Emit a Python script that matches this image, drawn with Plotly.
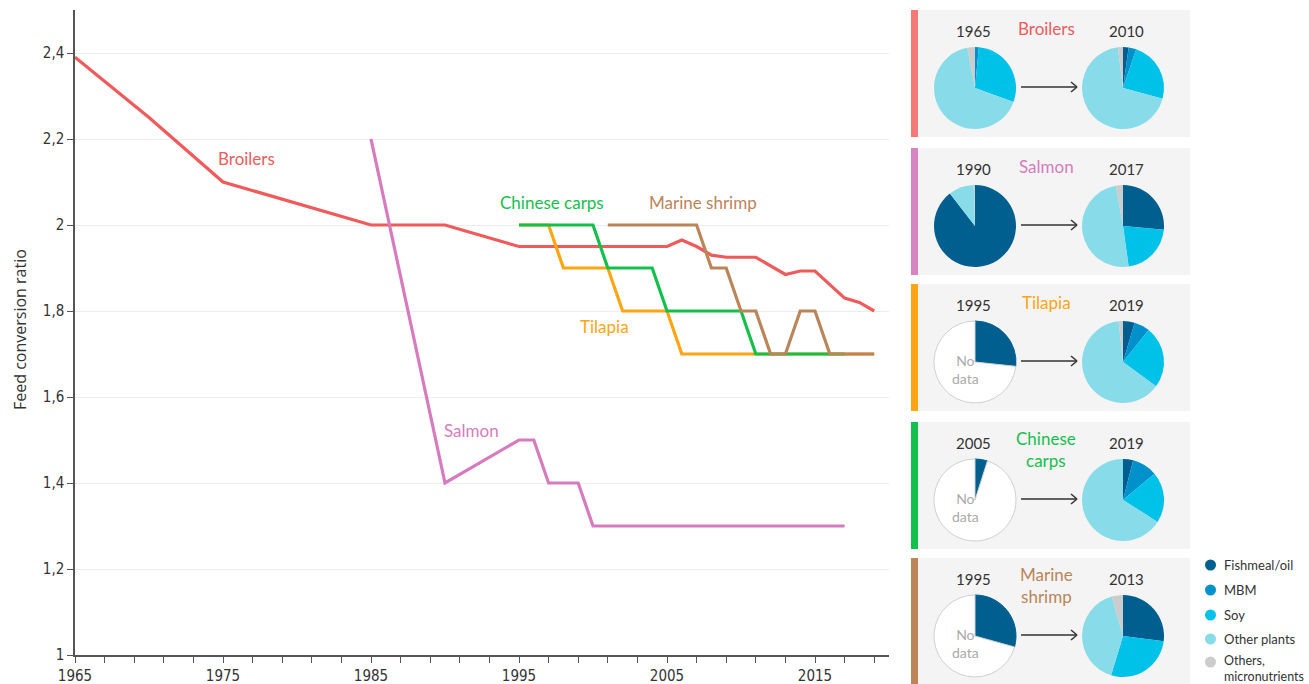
import plotly.graph_objects as go

W, H = 1309, 684

# ---------------- line chart data ----------------
broiler_years = [1965, 1970, 1975, 1985, 1990, 1995, 2005, 2006, 2007, 2008, 2009, 2011, 2013, 2014, 2015, 2017, 2018, 2019]
broiler_fcr = [2.39, 2.25, 2.10, 2.00, 2.00, 1.95, 1.95, 1.965, 1.95, 1.93, 1.925, 1.925, 1.885, 1.893, 1.893, 1.83, 1.82, 1.80]

salmon_years = [1985, 1990, 1995, 1996, 1997, 1999, 2000, 2017]
salmon_fcr = [2.2, 1.4, 1.5, 1.5, 1.4, 1.4, 1.3, 1.3]

tilapia_years = [1995, 1997, 1998, 2001, 2002, 2005, 2006, 2019]
tilapia_fcr = [2.0, 2.0, 1.9, 1.9, 1.8, 1.8, 1.7, 1.7]

carps_years = [1995, 2000, 2001, 2004, 2005, 2010, 2011, 2017]
carps_fcr = [2.0, 2.0, 1.9, 1.9, 1.8, 1.8, 1.7, 1.7]

shrimp_years = [2001, 2007, 2008, 2009, 2010, 2011, 2012, 2013, 2014, 2015, 2016, 2019]
shrimp_fcr = [2.0, 2.0, 1.9, 1.9, 1.8, 1.8, 1.7, 1.7, 1.8, 1.8, 1.7, 1.7]

y_tickvals = [1, 1.2, 1.4, 1.6, 1.8, 2, 2.2, 2.4]
y_ticktext = ["1", "1,2", "1,4", "1,6", "1,8", "2", "2,2", "2,4"]
x_tickvals = list(range(1965, 2020, 2))
x_ticktext = [str(v) if (v - 1965) % 10 == 0 else "" for v in x_tickvals]

# ---------------- pie data ----------------
feed_labels = ["Fishmeal/oil", "MBM", "Soy", "Other plants", "Others, micronutrients"]
feed_colors = ["#005F8E", "#0090CC", "#00C2E8", "#88DCE9", "#CCCCCC"]

species = ["Broilers", "Salmon", "Tilapia", "Chinese carps", "Marine shrimp"]
species_title = ["Broilers", "Salmon", "Tilapia", "Chinese<br>carps", "Marine<br>shrimp"]
start_years = ["1965", "1990", "1995", "2005", "1995"]
end_years = ["2010", "2017", "2019", "2019", "2013"]

start_shares = [
    [0, 1.5, 29, 66.5, 3],
    [89.5, 0, 0, 10, 0.5],
    None, None, None,
]
start_fishmeal_only = [None, None, 26.7, 4.9, 29.3]
end_shares = [
    [2.2, 3, 24, 68.8, 2],
    [26.5, 0, 21.3, 49.4, 2.8],
    [4.6, 6.2, 24.3, 63.2, 1.7],
    [4, 9.9, 20.1, 66, 0],
    [27, 0, 27.7, 40.9, 4.4],
]

colors = {
    "Broilers": "#EF5A5A",
    "Salmon": "#D67BBE",
    "Tilapia": "#FDA512",
    "Chinese carps": "#14C04C",
    "Marine shrimp": "#BC8459",
}
bar_colors = ["#F47878", "#D685C0", "#FDA512", "#14C04C", "#BC8459"]

FONT = "Lato, Open Sans, sans-serif"


def px(x):
    return x / W


def py(y):
    return 1 - y / H


def label(x, y, text, size, color, family=FONT, xanchor="center", **kw):
    return dict(x=px(x), y=py(y), xref="paper", yref="paper", text=text, showarrow=False,
                xanchor=xanchor, yanchor="middle",
                font=dict(family=family, size=size, color=color), **kw)


fig = go.Figure()

series = [
    ("Broilers", broiler_years, broiler_fcr),
    ("Salmon", salmon_years, salmon_fcr),
    ("Tilapia", tilapia_years, tilapia_fcr),
    ("Chinese carps", carps_years, carps_fcr),
    ("Marine shrimp", shrimp_years, shrimp_fcr),
]
for name, xs, ys in series:
    fig.add_trace(go.Scatter(x=xs, y=ys, mode="lines", name=name,
                             line=dict(color=colors[name], width=3.2),
                             showlegend=False, hoverinfo="skip"))

box_tops = [10, 148, 284, 422, 558]
box_h = 127
pie_r = 41
cx1, cx2 = 975, 1123

shapes = []
annotations = []

line_labels = [
    ("Broilers", 1976.6, 2.154),
    ("Salmon", 1991.8, 1.521),
    ("Chinese carps", 1997.2, 2.053),
    ("Marine shrimp", 2007.4, 2.053),
    ("Tilapia", 2000.8, 1.763),
]
for name, lx, ly in line_labels:
    annotations.append(dict(x=lx, y=ly, xref="x", yref="y", text=name, showarrow=False,
                            xanchor="center", yanchor="middle",
                            font=dict(family=FONT, size=17, color=colors[name])))

annotations.append(label(20, 330, "Feed conversion ratio", 16, "#333333",
                         family="Open Sans, sans-serif", textangle=-90))

for i, sp in enumerate(species):
    top = box_tops[i]
    bot = min(top + box_h, H)
    cy = top + 78
    shapes.append(dict(type="rect", xref="paper", yref="paper", x0=px(911), x1=px(1190),
                       y0=py(bot), y1=py(top), fillcolor="#F4F4F4", line=dict(width=0), layer="below"))
    shapes.append(dict(type="rect", xref="paper", yref="paper", x0=px(911), x1=px(918),
                       y0=py(bot), y1=py(top), fillcolor=bar_colors[i], line=dict(width=0), layer="below"))
    ay = cy - 1
    shapes.append(dict(type="line", xref="paper", yref="paper", x0=px(1021), x1=px(1077),
                       y0=py(ay), y1=py(ay), line=dict(color="#333333", width=1.5)))
    shapes.append(dict(type="line", xref="paper", yref="paper", x0=px(1071), x1=px(1077),
                       y0=py(ay - 5), y1=py(ay), line=dict(color="#333333", width=1.5)))
    shapes.append(dict(type="line", xref="paper", yref="paper", x0=px(1071), x1=px(1077),
                       y0=py(ay + 5), y1=py(ay), line=dict(color="#333333", width=1.5)))

    annotations.append(label(973, top + 21, start_years[i], 15, "#333333"))
    annotations.append(label(1126, top + 21, end_years[i], 15, "#333333"))
    ty = top + 18 if "<br>" not in species_title[i] else top + 27
    annotations.append(label(1046, ty, species_title[i], 17, colors[sp]))

    def dom(cx):
        return dict(x=[px(cx - pie_r), px(cx + pie_r)], y=[py(cy + pie_r), py(cy - pie_r)])

    if start_shares[i] is not None:
        fig.add_trace(go.Pie(labels=feed_labels, values=start_shares[i], sort=False, direction="clockwise",
                             rotation=0, marker=dict(colors=feed_colors, line=dict(width=0)),
                             textinfo="none", hoverinfo="label+percent", showlegend=False, domain=dom(cx1)))
    else:
        fm = start_fishmeal_only[i]
        fig.add_trace(go.Pie(labels=["Fishmeal/oil", "No data"], values=[fm, 100 - fm], sort=False,
                             direction="clockwise", rotation=0,
                             marker=dict(colors=[feed_colors[0], "#FFFFFF"],
                                         line=dict(color=[feed_colors[0], "#D0D0D0"], width=1)),
                             textinfo="none", hoverinfo="label+percent", showlegend=False, domain=dom(cx1)))
        annotations.append(label(965, cy + 7, "No<br>data", 14, "#AAAAAA"))
    fig.add_trace(go.Pie(labels=feed_labels, values=end_shares[i], sort=False, direction="clockwise",
                         rotation=0, marker=dict(colors=feed_colors, line=dict(width=0)),
                         textinfo="none", hoverinfo="label+percent", showlegend=False, domain=dom(cx2)))

legend_y = [565, 590, 615, 639, 662]
legend_text = ["Fishmeal/oil", "MBM", "Soy", "Other plants", "Others,<br>micronutrients"]
for i in range(5):
    ly = legend_y[i]
    shapes.append(dict(type="circle", xref="paper", yref="paper", x0=px(1205), x1=px(1216),
                       y0=py(ly + 5.5), y1=py(ly - 5.5), fillcolor=feed_colors[i], line=dict(width=0)))
    ty = ly if i < 4 else ly + 6
    annotations.append(label(1222, ty, legend_text[i], 12.5 if i == 4 else 13, "#333333",
                             xanchor="left", align="left"))

tick_font = dict(family="DejaVu Sans Condensed, Liberation Sans Narrow, sans-serif", size=15, color="#333333")

fig.update_layout(
    width=W, height=H,
    margin=dict(l=0, r=0, t=0, b=0, autoexpand=False),
    paper_bgcolor="white", plot_bgcolor="white",
    shapes=shapes, annotations=annotations,
    xaxis=dict(domain=[px(75), px(889)], range=[1965, 2020], tickmode="array",
               tickvals=x_tickvals, ticktext=x_ticktext, ticks="outside", ticklen=6,
               tickcolor="#555555", tickwidth=1.3, showline=True, linecolor="#555555", linewidth=1.5,
               showgrid=False, zeroline=False, tickfont=tick_font, fixedrange=True, automargin=False),
    yaxis=dict(domain=[py(655), py(10)], range=[1, 2.5], tickmode="array",
               tickvals=y_tickvals, ticktext=y_ticktext, ticks="outside", ticklen=6,
               tickcolor="#555555", tickwidth=1.3, showline=True, linecolor="#555555", linewidth=1.5,
               showgrid=True, gridcolor="#EDEDED", gridwidth=1, zeroline=False,
               tickfont=tick_font, fixedrange=True, automargin=False),
)

fig.write_html("out.html", config={"responsive": False, "displayModeBar": False},
               post_script="document.body.style.margin='0';document.body.style.overflow='hidden';")
